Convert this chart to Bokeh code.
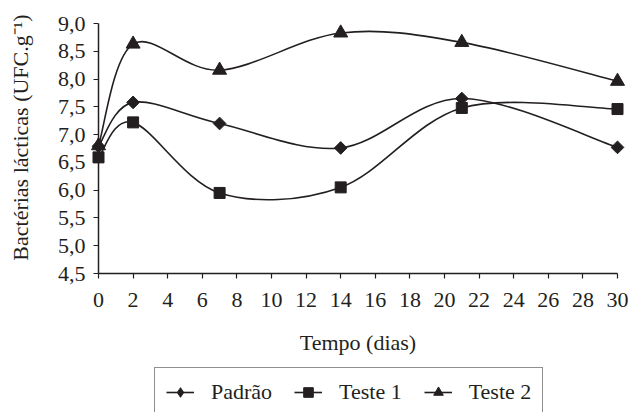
import numpy as np
from bokeh.plotting import figure
from bokeh.layouts import column
from bokeh.models import Range1d, FixedTicker, ColumnDataSource, Legend, LegendItem
from bokeh.embed import file_html
from bokeh.resources import INLINE

# ---- data ----
dias = [0, 2, 7, 14, 21, 30]
padrao = [6.79, 7.58, 7.20, 6.76, 7.65, 6.77]
teste1 = [6.59, 7.22, 5.95, 6.05, 7.48, 7.46]
teste2 = [6.80, 8.63, 8.16, 8.83, 8.66, 7.96]
series_names = ["Padrão", "Teste 1", "Teste 2"]
x_ticks = [0, 2, 4, 6, 8, 10, 12, 14, 16, 18, 20, 22, 24, 26, 28, 30]
y_ticks = [4.5, 5.0, 5.5, 6.0, 6.5, 7.0, 7.5, 8.0, 8.5, 9.0]
y_tick_labels = ["4,5", "5,0", "5,5", "6,0", "6,5", "7,0", "7,5", "8,0", "8,5", "9,0"]
x_title = "Tempo (dias)"
y_title = "Bactérias lácticas (UFC.g⁻¹)"

INK = "#231f20"
FONT = "Liberation Serif"
FS = "22px"


def smooth_segments(x, y, k=1.0 / 6.0):
    x = np.asarray(x, float)
    y = np.asarray(y, float)
    xp = np.concatenate([[x[0]], x, [x[-1]]])
    yp = np.concatenate([[y[0]], y, [y[-1]]])
    d = dict(x0=[], y0=[], x1=[], y1=[], cx0=[], cy0=[], cx1=[], cy1=[])
    for i in range(len(x) - 1):
        d["x0"].append(xp[i + 1]); d["y0"].append(yp[i + 1])
        d["x1"].append(xp[i + 2]); d["y1"].append(yp[i + 2])
        d["cx0"].append(xp[i + 1] + (xp[i + 2] - xp[i]) * k)
        d["cy0"].append(yp[i + 1] + (yp[i + 2] - yp[i]) * k)
        d["cx1"].append(xp[i + 2] - (xp[i + 3] - xp[i + 1]) * k)
        d["cy1"].append(yp[i + 2] - (yp[i + 3] - yp[i + 1]) * k)
    return ColumnDataSource(d)


p = figure(width=629, height=366,
           x_range=Range1d(0, 30), y_range=Range1d(4.5, 9.0),
           output_backend="svg", toolbar_location=None,
           min_border_left=98, min_border_right=12,
           min_border_top=23, min_border_bottom=93)
p.outline_line_color = None
p.grid.visible = False
p.background_fill_color = "white"
p.border_fill_color = "white"

# axes
p.xaxis.ticker = FixedTicker(ticks=x_ticks)
p.yaxis.ticker = FixedTicker(ticks=y_ticks)
p.yaxis.major_label_overrides = {t: s for t, s in zip(y_ticks, y_tick_labels)}
for ax in (p.xaxis[0], p.yaxis[0]):
    ax.axis_line_color = INK
    ax.axis_line_width = 1.5
    ax.major_tick_line_color = INK
    ax.major_tick_line_width = 1.2
    ax.major_tick_out = 5
    ax.major_tick_in = 0
    ax.minor_tick_line_color = None
    ax.major_label_text_font = FONT
    ax.major_label_text_font_size = FS
    ax.major_label_text_color = INK
    ax.axis_label_text_font = FONT
    ax.axis_label_text_font_size = FS
    ax.axis_label_text_font_style = "normal"
    ax.axis_label_text_color = INK
p.xaxis.axis_label = x_title
# leading no-break spaces nudge the rotated title upward, as in the reference
p.yaxis.axis_label = "\u00a0\u00a0\u00a0\u00a0" + y_title
p.xaxis.major_label_standoff = 14
p.xaxis.axis_label_standoff = 20
p.yaxis.major_label_standoff = 8
p.yaxis.axis_label_standoff = 22

# legend strip (second figure, frame aligned with the first)
p2 = figure(width=629, height=46, x_range=Range1d(0, 1), y_range=Range1d(0, 1),
            output_backend="svg", toolbar_location=None,
            x_axis_location=None, y_axis_location=None,
            min_border_left=0, min_border_right=0, min_border_top=0, min_border_bottom=0)
p2.outline_line_color = None
p2.grid.visible = False

markers = ["square", "square", "triangle"]
legend_markers = ["diamond", "square", "triangle"]
angles = [np.pi / 4, 0, 0]
sizes = [9, 11, 14]
items = []
for name, vals, mk, lmk, ang, sz in zip(series_names, [padrao, teste1, teste2],
                                        markers, legend_markers, angles, sizes):
    seg = smooth_segments(dias, vals)
    br = p.bezier(x0="x0", y0="y0", x1="x1", y1="y1", cx0="cx0", cy0="cy0",
                  cx1="cx1", cy1="cy1", source=seg, line_color=INK, line_width=1.6)
    br.level = "overlay"
    sr = p.scatter(x=dias, y=vals, marker=mk, size=sz, angle=ang,
                   fill_color=INK, line_color=INK)
    sr.level = "overlay"
    lr2 = p2.line(x=[np.nan, np.nan], y=[np.nan, np.nan], line_color=INK, line_width=1.6)
    sr2 = p2.scatter(x=[np.nan], y=[np.nan], marker=lmk, size=sz,
                     fill_color=INK, line_color=INK)
    items.append(LegendItem(label=name, renderers=[lr2, sr2]))

legend = Legend(items=items, orientation="horizontal", location=(56, -5),
                border_line_color=INK, border_line_width=1.5,
                label_text_font=FONT, label_text_font_size=FS,
                label_text_color=INK, glyph_width=28, glyph_height=24,
                label_standoff=17, spacing=22, padding=11, margin=0,
                background_fill_alpha=0)
p2.add_layout(legend, "center")

layout = column(p, p2, spacing=0)
open("out.html", "w").write(file_html(layout, INLINE))
